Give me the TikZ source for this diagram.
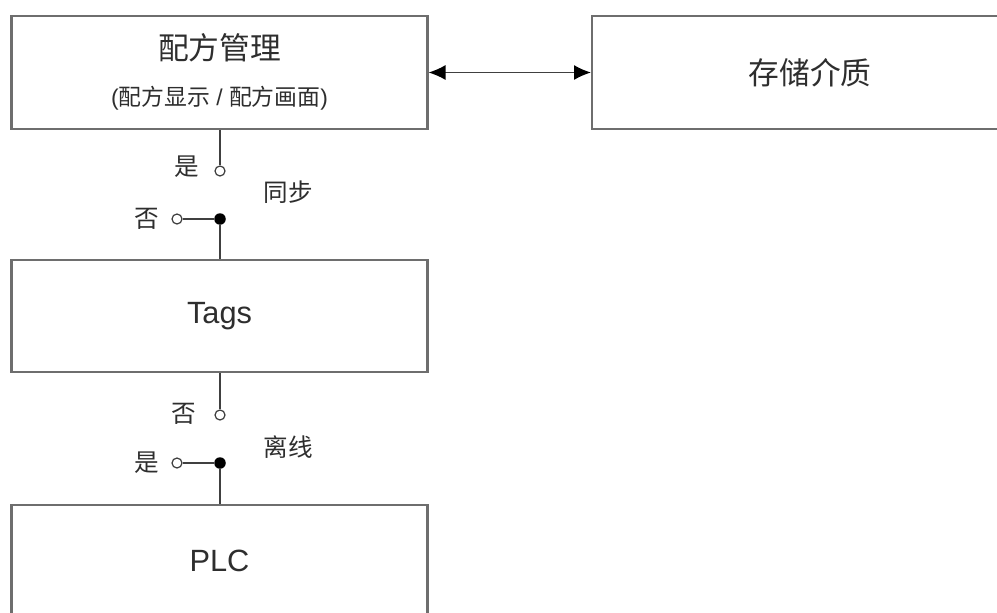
\documentclass[tikz,border=0pt]{standalone}
\usepackage{fontspec}
\setmainfont{Liberation Sans}
\newfontfamily\cjk{Noto Sans CJK SC}
\usetikzlibrary{positioning,arrows.meta}

\definecolor{boxgray}{HTML}{6E6E6E}
\definecolor{wiregray}{HTML}{404040}
\definecolor{textgray}{HTML}{2E2E2E}

\begin{document}
\begin{tikzpicture}[x=0.02cm, y=-0.02cm,
  >={Latex[length=0.34cm, width=0.3cm, fill=black, color=black]},
  block/.style={draw=boxgray, line width=1.2pt, minimum width=8.32cm,
    minimum height=2.25cm, inner sep=0pt, text=textgray},
  wire/.style={draw=wiregray, line width=0.8pt},
  openpin/.style={circle, draw=wiregray, fill=white, line width=0.7pt,
    minimum size=0.2cm, inner sep=0pt},
  dotpin/.style={circle, fill=black, minimum size=0.23cm, inner sep=0pt},
  pinlbl/.style={text=textgray, inner sep=0pt, font=\cjk\fontsize{14}{16}\selectfont}]

  %% ---- Frame ----
  \useasboundingbox (0,0) rectangle (997,612);
  \clip (0,0) rectangle (997,612);

  %% ---- Blocks ----
  \node[block] (mgmt) at (219.5,72.5) {};
  \node[text=textgray, inner sep=0pt, font=\cjk\fontsize{17.5}{20}\selectfont]
    (mgmttitle) at (219.5,48) {配方管理};
  \node[text=textgray, inner sep=0pt, font=\fontsize{13}{15}\selectfont]
    (mgmtsub) at (219.5,98) {({\cjk 配方显示} / {\cjk 配方画面})};

  \node[block, minimum width=8.72cm, font=\cjk\fontsize{17.5}{20}\selectfont]
    (store) at (810,72.5) {存储介质};

  \node[block, font=\fontsize{17.5}{20}\selectfont] (tags) at (219.5,316) {Tags};
  \node[block, font=\fontsize{17.5}{20}\selectfont] (plc) at (219.5,561) {PLC};

  %% ---- Exchange arrow ----
  \draw[wire, <->] (mgmt.east) -- (store.west);

  %% ---- Switch: sync ----
  \node[openpin] (synyes) at (220,171) {};
  \node[openpin] (synno) at (177,219) {};
  \node[dotpin] (syncom) at (220,219) {};
  \node[pinlbl] (synyeslbl) at (187,167) {是};
  \node[pinlbl] (synnolbl) at (147,219) {否};
  \node[pinlbl] (synlbl) at (288,192) {同步};

  \draw[wire] (mgmt.south -| synyes) -- (synyes);
  \draw[wire] (synno) -- (syncom);
  \draw[wire] (syncom) -- (syncom |- tags.north);

  %% ---- Switch: offline ----
  \node[openpin] (offno) at (220,415) {};
  \node[openpin] (offyes) at (177,463) {};
  \node[dotpin] (offcom) at (220,463) {};
  \node[pinlbl] (offnolbl) at (184,414) {否};
  \node[pinlbl] (offyeslbl) at (147,463) {是};
  \node[pinlbl] (offlbl) at (288,447) {离线};

  \draw[wire] (tags.south -| offno) -- (offno);
  \draw[wire] (offyes) -- (offcom);
  \draw[wire] (offcom) -- (offcom |- plc.north);

\end{tikzpicture}
\end{document}
